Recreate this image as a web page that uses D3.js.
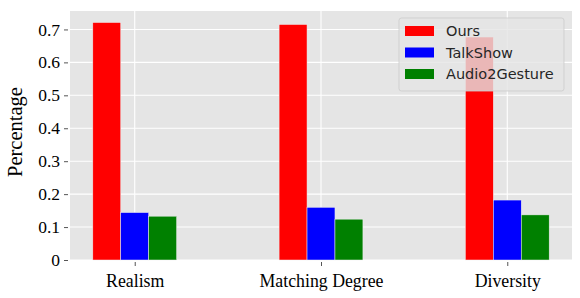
<!DOCTYPE html>
<html>
<head>
<meta charset="utf-8">
<script src="https://cdn.jsdelivr.net/npm/d3@7"></script>
<style>
  body { margin: 0; background: #fff; }
  svg { display: block; }
</style>
</head>
<body>
<svg width="580" height="298"></svg>
<script>
// values
var categories = ['Realism', 'Matching Degree', 'Diversity'];
var seriesNames = ['Ours', 'TalkShow', 'Audio2Gesture'];
var seriesColors = ['#ff0000', '#0000ff', '#008000'];
var ours = [0.721, 0.715, 0.677];
var talkShow = [0.144, 0.160, 0.182];
var audio2Gesture = [0.133, 0.124, 0.137];
var yTicks = [0, 0.1, 0.2, 0.3, 0.4, 0.5, 0.6, 0.7];

var series = [ours, talkShow, audio2Gesture];
var barWidth = 0.15;

var svg = d3.select('svg');
// note: "top" is a reserved window property, so use plot* names
var plotLeft = 70, plotRight = 572, plotTop = 11, plotBottom = 260;

var x = d3.scaleLinear().domain([-0.3475, 2.3475]).range([plotLeft, plotRight]);
var y = d3.scaleLinear().domain([0, 0.756]).range([plotBottom, plotTop]);

// background
svg.append('rect')
  .attr('x', plotLeft).attr('y', plotTop)
  .attr('width', plotRight - plotLeft).attr('height', plotBottom - plotTop)
  .attr('fill', '#e5e5e5');

// grid
svg.append('g').selectAll('line').data(yTicks).enter().append('line')
  .attr('x1', plotLeft).attr('x2', plotRight)
  .attr('y1', function(d){ return y(d); })
  .attr('y2', function(d){ return y(d); })
  .attr('stroke', '#fff').attr('stroke-width', 1.1);

svg.append('g').selectAll('line').data(categories).enter().append('line')
  .attr('x1', function(d, i){ return x(i); })
  .attr('x2', function(d, i){ return x(i); })
  .attr('y1', plotTop).attr('y2', plotBottom)
  .attr('stroke', '#fff').attr('stroke-width', 1.1);

// bars
var rows = [];
series.forEach(function(vals, s){
  vals.forEach(function(v, i){
    rows.push({ s: s, i: i, v: v });
  });
});

svg.append('g').selectAll('rect').data(rows).enter().append('rect')
  .attr('x', function(d){ return x(d.i + (d.s - 1) * barWidth - barWidth / 2); })
  .attr('width', function(d){ return x(barWidth) - x(0); })
  .attr('y', function(d){ return y(d.v); })
  .attr('height', function(d){ return y(0) - y(d.v); })
  .attr('fill', function(d){ return seriesColors[d.s]; })
  .attr('stroke', '#eeeeee')
  .attr('stroke-width', 0.5);

// y axis
var yAxis = d3.axisLeft(y)
  .tickValues(yTicks)
  .tickFormat(function(d){ return d === 0 ? '0' : d3.format('.1f')(d); })
  .tickSize(4)
  .tickPadding(4);

var gy = svg.append('g')
  .attr('transform', 'translate(' + (plotLeft - 2) + ',0)')
  .call(yAxis);
gy.select('.domain').remove();
gy.selectAll('.tick line').attr('stroke', '#555').attr('stroke-width', 1);
gy.selectAll('.tick text')
  .attr('font-family', '"Liberation Serif", serif')
  .attr('font-size', '17.5px')
  .attr('fill', '#000');

// x axis
var xAxis = d3.axisBottom(x)
  .tickValues([0, 1, 2])
  .tickFormat(function(d){ return categories[d]; })
  .tickSize(4)
  .tickPadding(8);

var gx = svg.append('g')
  .attr('transform', 'translate(0,' + (plotBottom + 2) + ')')
  .call(xAxis);
gx.select('.domain').remove();
gx.selectAll('.tick line').attr('stroke', '#555').attr('stroke-width', 1);
gx.selectAll('.tick text')
  .attr('font-family', '"Liberation Serif", serif')
  .attr('font-size', '17.8px')
  .attr('fill', '#000');

// y label
svg.append('text')
  .attr('transform', 'translate(22,132) rotate(-90)')
  .attr('text-anchor', 'middle')
  .attr('font-family', '"Liberation Serif", serif')
  .attr('font-size', '20.5px')
  .attr('fill', '#000')
  .text('Percentage');

// legend
var legend = svg.append('g').attr('transform', 'translate(399,18)');
legend.append('rect')
  .attr('x', 0).attr('y', 0)
  .attr('width', 165).attr('height', 73)
  .attr('rx', 2.5)
  .attr('fill', '#e5e5e5').attr('fill-opacity', 0.8)
  .attr('stroke', '#cccccc').attr('stroke-opacity', 0.8)
  .attr('stroke-width', 1);

var items = legend.selectAll('g.item').data(seriesNames).enter().append('g')
  .attr('transform', function(d, i){ return 'translate(0,' + (13 + i * 21.5) + ')'; });

items.append('rect')
  .attr('x', 6).attr('y', -5)
  .attr('width', 29).attr('height', 10)
  .attr('fill', function(d, i){ return seriesColors[i]; });

items.append('text')
  .attr('x', 47).attr('y', 0)
  .attr('dy', '0.36em')
  .attr('font-family', '"DejaVu Sans", sans-serif')
  .attr('font-size', '14.5px')
  .attr('fill', '#262626')
  .text(function(d){ return d; });
</script>
</body>
</html>
